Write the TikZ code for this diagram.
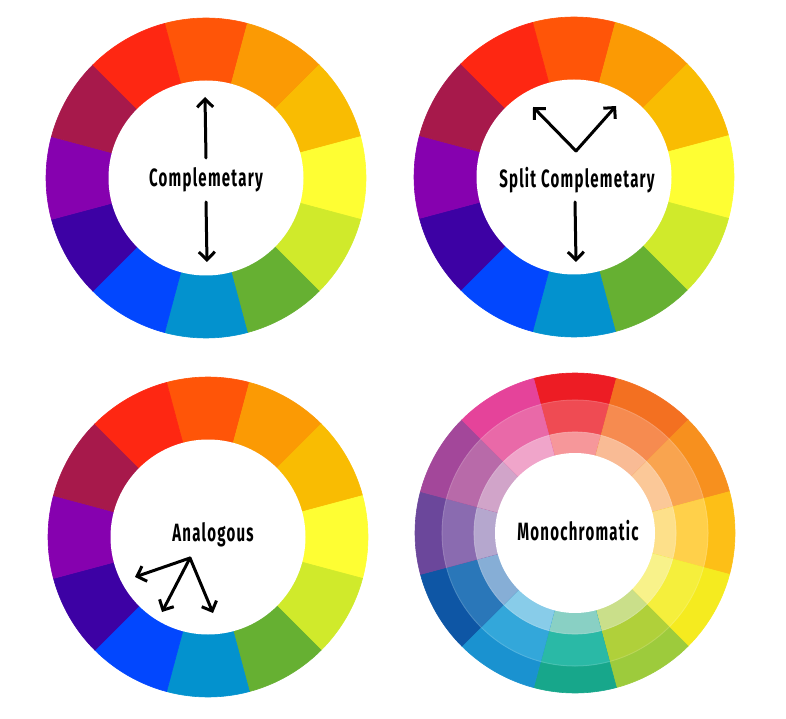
\documentclass[tikz,border=0pt]{standalone}
\usepackage{fontspec}
\usepackage{tikz}
\usetikzlibrary{arrows.meta}
\newfontfamily\wheelfont[FakeStretch=0.6,LetterSpace=5]{Fira Sans}

% hue wheel colours, clockwise from the top
\definecolor{hueA}{HTML}{FF5508}
\definecolor{hueB}{HTML}{FB9A04}
\definecolor{hueC}{HTML}{F9BC02}
\definecolor{hueD}{HTML}{FEFE33}
\definecolor{hueE}{HTML}{D0EA2B}
\definecolor{hueF}{HTML}{66B032}
\definecolor{hueG}{HTML}{0392CE}
\definecolor{hueH}{HTML}{0247FE}
\definecolor{hueI}{HTML}{3D01A4}
\definecolor{hueJ}{HTML}{8601AF}
\definecolor{hueK}{HTML}{A7194B}
\definecolor{hueL}{HTML}{FE2712}

\tikzset{
  hue wheel/.pic={
    \foreach \col [count=\i from 0] in {hueA,hueB,hueC,hueD,hueE,hueF,hueG,hueH,hueI,hueJ,hueK,hueL}
      \filldraw[fill=\col, draw=\col, line width=0.6pt] (0,0) -- ({105-30*\i}:160)
        arc[start angle={105-30*\i}, end angle={75-30*\i}, radius=160] -- cycle;
    \fill[white] (0,0) circle[radius=97.5];
  },
  mono wheel/.pic={
    \foreach \out/\mid/\inn [count=\i from 0] in {
        ED1C24/EF4B53/F6979A, F37021/F68B50/F9BB95, F7901E/F9A44F/FBC898,
        FDBF17/FFD04A/FDE08A, F5EB1F/F5EF3C/F8F28A, 9DCB3C/B0D03A/CADF8A,
        17A78B/2AB9A6/89D0C4, 1A92D0/33A7DA/88CCE9, 0E56A5/2A77B9/86AED6,
        6B479B/8A6BB0/B5A7CE, A3479A/B86AA9/D1A4C9, E5439A/E969A8/F0A5CA} {
      \definecolor{ringout}{HTML}{\out}
      \definecolor{ringmid}{HTML}{\mid}
      \definecolor{ringinn}{HTML}{\inn}
      \filldraw[fill=ringout, draw=ringout, line width=0.6pt] (0,0) -- ({105-30*\i}:160)
        arc[start angle={105-30*\i}, end angle={75-30*\i}, radius=160] -- cycle;
      \filldraw[fill=ringmid, draw=ringmid, line width=0.6pt] (0,0) -- ({105-30*\i}:133)
        arc[start angle={105-30*\i}, end angle={75-30*\i}, radius=133] -- cycle;
      \filldraw[fill=ringinn, draw=ringinn, line width=0.6pt] (0,0) -- ({105-30*\i}:101)
        arc[start angle={105-30*\i}, end angle={75-30*\i}, radius=101] -- cycle;
    }
    \draw[white, opacity=0.15, line width=1pt] (0,0) circle[radius=133] (0,0) circle[radius=101];
    \fill[white] (0,0) circle[radius=80];
  }
}

\begin{document}
\begin{tikzpicture}[x=1pt, y=1pt,
    wheeltext/.style={font=\wheelfont\bfseries\fontsize{25}{25}\selectfont, inner sep=0pt},
    pointer/.style={-{Straight Barb[length=8pt, width=16pt, line width=3pt]}, line width=3pt, line cap=round}]
  \useasboundingbox (0,0) rectangle (786,718);

  \pic at (206,540) {hue wheel};
  \pic at (574,541) {hue wheel};
  \pic at (208,181) {hue wheel};
  \pic at (575,185) {mono wheel};

  \node[wheeltext] (compl) at (206,538) {Complemetary};
  \node[wheeltext] (split) at (577,538) {Split Complemetary};
  \node[wheeltext] (analog) at (213,183) {Analogous};
  \node[wheeltext] (mono) at (578,187) {Monochromatic};

  % complementary
  \coordinate (complupA) at (206,560);
  \coordinate (complupB) at (205,621);
  \coordinate (compldnA) at (206,516);
  \coordinate (compldnB) at (207,456);
  \draw[pointer] (complupA) -- (complupB);
  \draw[pointer] (compldnA) -- (compldnB);

  % split complementary
  \coordinate (splitapex) at (576,567);
  \coordinate (splitleft) at (533,611);
  \coordinate (splitright) at (616,612);
  \coordinate (splitdnA) at (575,516);
  \coordinate (splitdnB) at (576,456);
  \draw[pointer] (splitapex) -- (splitleft);
  \draw[pointer] (splitapex) -- (splitright);
  \draw[pointer] (splitdnA) -- (splitdnB);

  % analogous
  \coordinate (analogapex) at (190,160);
  \coordinate (analogleft) at (135,141);
  \coordinate (analogmid) at (162,106);
  \coordinate (analogright) at (213,105);
  \draw[pointer] (analogapex) -- (analogleft);
  \draw[pointer] (analogapex) -- (analogmid);
  \draw[pointer] (analogapex) -- (analogright);
\end{tikzpicture}
\end{document}
